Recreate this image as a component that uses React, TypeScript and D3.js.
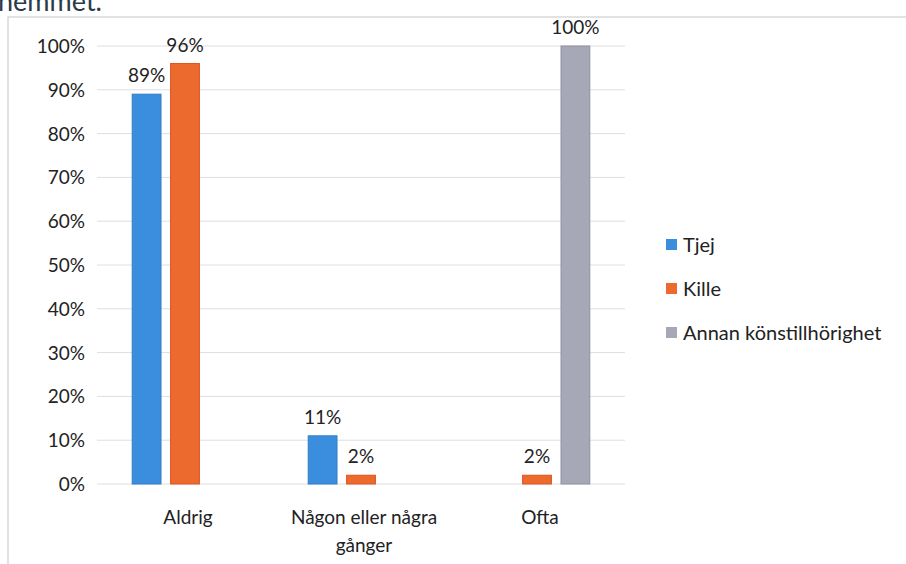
import React from "react";
import * as d3 from "d3";

const categories = ["Aldrig", "Någon eller några gånger", "Ofta"];
const categoryLines = [["Aldrig"], ["Någon eller några", "gånger"], ["Ofta"]];
const seriesNames = ["Tjej", "Kille", "Annan könstillhörighet"];
const tjej = [89, 11, 0];
const kille = [96, 2, 2];
const annan = [0, 0, 100];
const yTicks = [0, 10, 20, 30, 40, 50, 60, 70, 80, 90, 100];
const colors = ["#3b8ede", "#ec6a2e", "#a6a8b8"];
const strokeColors = ["#2f7cc8", "#e0531c", "#8e90a0"];

export default function App() {
  const W = 906, H = 564;
  const plot = { left: 97, right: 625, top: 46, bottom: 484 };
  const x0 = d3.scaleBand<string>().domain(categories).range([plot.left, plot.right]).paddingInner(0.4).paddingOuter(0.2);
  const x1 = d3.scaleBand<string>().domain(seriesNames).range([0, x0.bandwidth()]).paddingInner(0.25);
  const y = d3.scaleLinear().domain([0, 100]).range([plot.bottom, plot.top]);
  const series = [tjej, kille, annan];
  const font = "Lato, 'Open Sans', sans-serif";

  return (
    <svg width={W} height={H} style={{ position: "absolute", left: 0, top: 0, background: "#fff" }} fontFamily={font}>
      <text x={-2} y={11} fontSize={27} fill="#2c3a48">hemmet.</text>
      <rect x={8} y={17} width={W} height={H} fill="none" stroke="#cfcfcf" strokeWidth={1.2} />
      {yTicks.map((t) => (
        <g key={t}>
          <line x1={plot.left} x2={plot.right} y1={y(t)} y2={y(t)} stroke="#dedede" strokeWidth={1} />
          <text x={85} y={y(t) + 7} fontSize={19} textAnchor="end" fill="#222">{t}%</text>
        </g>
      ))}
      {categories.map((c, ci) => (
        <g key={c}>
          {series.map((s, si) => {
            const v = s[ci];
            if (v === 0) return null;
            const bx = (x0(c) as number) + (x1(seriesNames[si]) as number);
            return (
              <g key={si}>
                <rect x={bx} y={y(v)} width={x1.bandwidth()} height={y(0) - y(v)} fill={colors[si]} stroke={strokeColors[si]} strokeWidth={1} />
                <text x={bx + x1.bandwidth() / 2} y={y(v) - 12} fontSize={19} textAnchor="middle" fill="#222">{v}%</text>
              </g>
            );
          })}
          {categoryLines[ci].map((line, li) => (
            <text key={li} x={(x0(c) as number) + x0.bandwidth() / 2 + 3} y={524 + li * 28} fontSize={19} textAnchor="middle" fill="#222">{line}</text>
          ))}
        </g>
      ))}
      {seriesNames.map((n, i) => (
        <g key={n}>
          <rect x={666} y={239 + i * 44} width={11} height={11} fill={colors[i]} />
          <text x={683} y={252 + i * 44} fontSize={20} fill="#222">{n}</text>
        </g>
      ))}
    </svg>
  );
}
